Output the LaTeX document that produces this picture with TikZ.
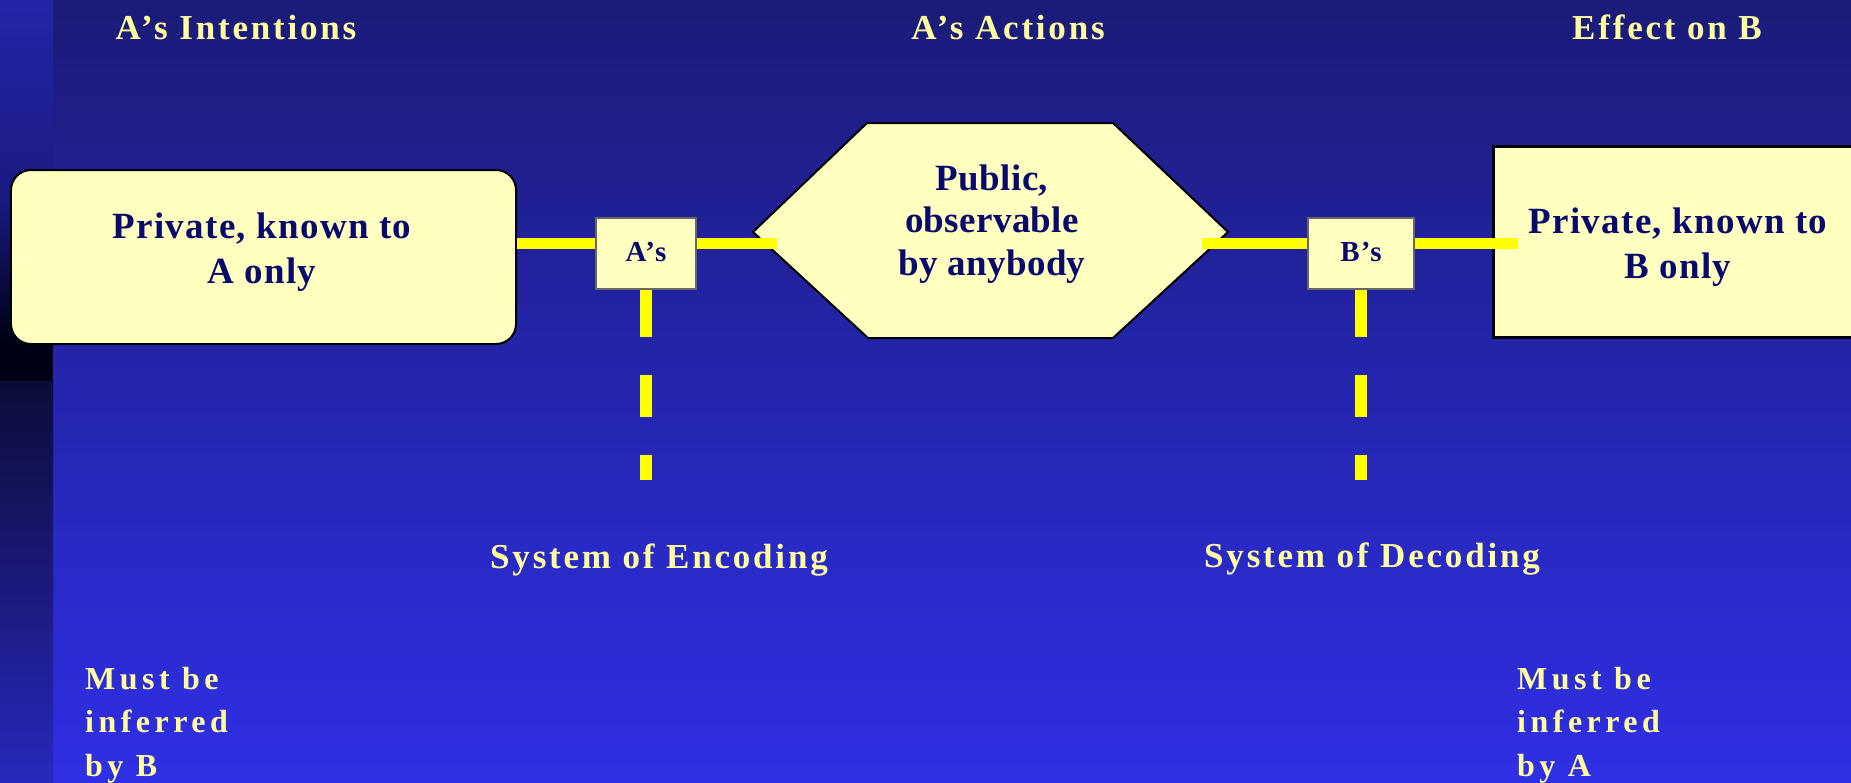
\documentclass[tikz,border=0pt]{standalone}
\usepackage{fontspec}
\setmainfont{Liberation Serif}
\newfontfamily\ylwfont{Liberation Serif}[LetterSpace=8.0]
\newfontfamily\mustfont{Liberation Serif}[LetterSpace=14.0]
\newfontfamily\boxfont{Liberation Serif}[LetterSpace=3.5]
\newfontfamily\hexfont{Liberation Serif}[LetterSpace=1.0]
\definecolor{bgtop}{RGB}{27,27,120}
\definecolor{bgbot}{RGB}{47,47,230}
\definecolor{barA}{RGB}{36,36,168}
\definecolor{barB}{RGB}{26,26,130}
\definecolor{barC}{RGB}{0,0,18}
\definecolor{barD}{RGB}{1,1,22}
\definecolor{barE}{RGB}{12,12,56}
\definecolor{barF}{RGB}{40,40,190}
\definecolor{boxfill}{RGB}{255,255,192}
\definecolor{navy}{RGB}{10,10,110}
\definecolor{txtyellow}{RGB}{255,255,160}
\definecolor{lineyellow}{RGB}{255,255,0}
\tikzset{
  ylwtxt/.style={text=txtyellow, font=\ylwfont\bfseries\fontsize{35bp}{44bp}\selectfont, inner sep=0pt},
  musttxt/.style={text=txtyellow, font=\mustfont\bfseries\fontsize{32bp}{43.5bp}\selectfont, inner sep=0pt, align=left},
  boxtxt/.style={text=navy, font=\boxfont\bfseries\fontsize{37bp}{45bp}\selectfont, inner sep=0pt, align=center},
  hextxtstyle/.style={text=navy, font=\hexfont\bfseries\fontsize{37bp}{42.5bp}\selectfont, inner sep=0pt, align=center},
  smalltxt/.style={text=navy, font=\boxfont\bfseries\fontsize{29bp}{32bp}\selectfont, inner sep=0pt},
  roundbox/.style={draw=black, line width=2bp, fill=boxfill, rounded corners=20bp, inner sep=0pt},
  squarebox/.style={draw=black, line width=3bp, fill=boxfill, inner sep=0pt},
  smallbox/.style={draw=black!60, line width=1.5bp, fill=boxfill, inner sep=0pt},
  hexshape/.style={draw=black, line width=2bp, fill=boxfill},
  link/.style={draw=lineyellow, line width=11bp},
  dashlink/.style={draw=lineyellow, line width=12bp, dash pattern=on 47bp off 38bp on 42bp off 38bp on 100bp}
}
\begin{document}
\begin{tikzpicture}[x=1bp,y=-1bp]
\useasboundingbox (0,0) rectangle (1851,783);
\clip (0,0) rectangle (1851,783);
% background
\shade[top color=bgtop, bottom color=bgbot] (0,0) rectangle (1851,783);
% left bar
\shade[top color=barA, bottom color=barB] (0,0) rectangle (53,200);
\shade[top color=barB, bottom color=barC] (0,200) rectangle (53,345);
\fill[barD] (0,344) rectangle (53,382);
\shade[top color=barE, bottom color=barF] (0,381) rectangle (53,783);

% shapes
\node[roundbox, minimum width=505bp, minimum height=174bp] (leftbox) at (263.5,257) {};
\node[smallbox, minimum width=100bp, minimum height=71bp] (abox) at (646,253.5) {};
\node[smallbox, minimum width=106bp, minimum height=71bp] (bbox) at (1361,253.5) {};
\node[squarebox, minimum width=377bp, minimum height=190bp] (rightbox) at (1681.5,242) {};
\draw[hexshape] (753,232) -- (867,123) -- (1113,123) -- (1228,232) -- (1113,338) -- (868,338) -- cycle;
\coordinate (hexL) at (777,243);
\coordinate (hexR) at (1202,243);
\coordinate (axis) at (0,243);
\coordinate (rbIn) at (1518,243);
\coordinate (encEnd) at (646,480);
\coordinate (decEnd) at (1361,480);

% connectors
\draw[link] (leftbox.east |- axis) -- (abox.west |- axis);
\draw[link] (abox.east |- axis) -- (hexL);
\draw[link] (hexR) -- (bbox.west |- axis);
\draw[link] (bbox.east |- axis) -- (rbIn);
\draw[dashlink] (abox.south) -- (encEnd);
\draw[dashlink] (bbox.south) -- (decEnd);

% titles
\node[ylwtxt, anchor=base] (t1) at (236,40) {A’s Intentions};
\node[ylwtxt, anchor=base] (t2) at (1008,40) {A’s Actions};
\node[ylwtxt, anchor=base] (t3) at (1667,40) {Effect on B};

% box texts (base = baseline of last line)
\node[boxtxt, anchor=base] (lefttxt) at (262,283) {Private, known to\\A only};
\node[hextxtstyle, anchor=base] (hextxt) at (992,275) {Public,\\observable\\by anybody};
\node[boxtxt, anchor=base] (righttxt) at (1678,278) {Private, known to\\B only};
\node[smalltxt, anchor=base] (atxt) at (646,261) {A’s};
\node[smalltxt, anchor=base] (btxt) at (1361,261) {B’s};

% bottom texts
\node[ylwtxt, anchor=base] (enc) at (659,568) {System of Encoding};
\node[ylwtxt, anchor=base] (dec) at (1372,567) {System of Decoding};
\node[musttxt, anchor=base west] (mustB) at (85,776) {Must be\\inferred\\by B};
\node[musttxt, anchor=base west] (mustA) at (1517,776) {Must be\\inferred\\by A};
\end{tikzpicture}
\end{document}
